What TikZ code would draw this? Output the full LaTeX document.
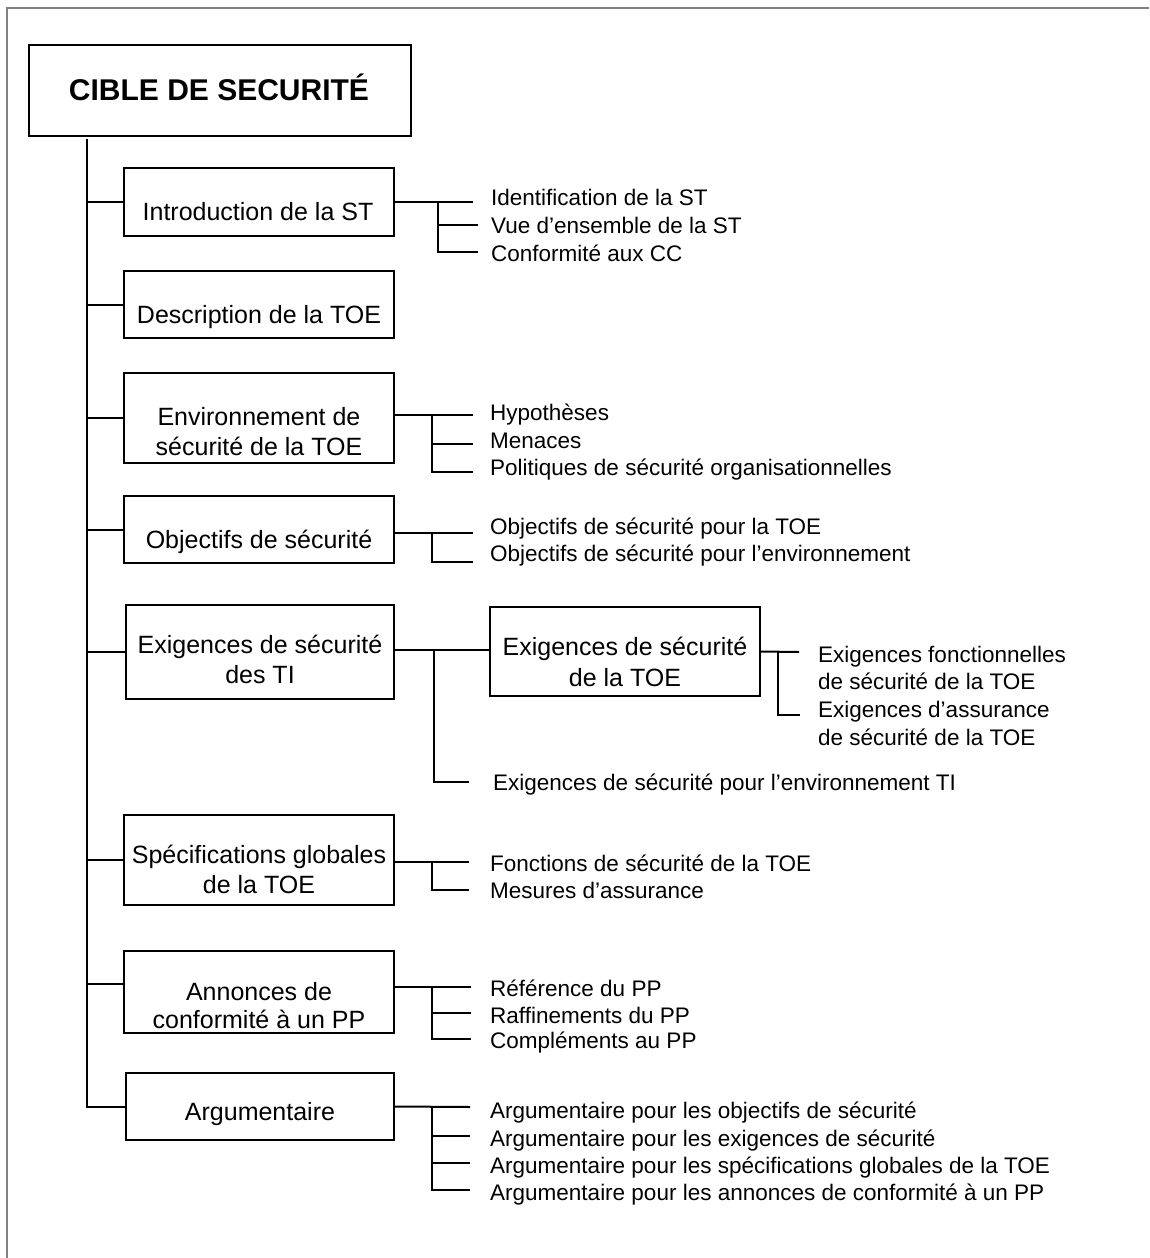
\documentclass[tikz,border=0pt]{standalone}
\usepackage{fontspec}
\setmainfont{Liberation Sans}
\begin{document}
\begin{tikzpicture}[x=1pt,y=-1pt,
  frame/.style={draw=black!50, line width=2.2pt},
  wire/.style={draw=black, line width=2pt},
  box/.style={draw=black, line width=2pt, inner sep=0pt, minimum width=270pt},
  titlefont/.style={font=\fontsize{30}{36}\selectfont\bfseries},
  boxtext/.style={inner sep=0pt, anchor=base, font=\fontsize{25}{30}\selectfont},
  leaf/.style={inner sep=0pt, anchor=base west, font=\fontsize{22.5}{27}\selectfont}]

\useasboundingbox (0,0) rectangle (1149,1258);
\fill[white] (0,0) rectangle (1149,1258);

% page frame (left and top edges)
\draw[frame] (7,1258) -- (7,8) -- (1149,8);

% title
\node[box, minimum width=382pt, minimum height=91pt] (title) at (220,90.5) {};
\node[titlefont, inner sep=0pt, anchor=base] (title-t) at (219,100) {CIBLE DE SECURITÉ};

% main sections
\node[box, minimum height=68pt] (intro) at (259,202) {};
\node[boxtext] (intro-t) at (258,220) {Introduction de la ST};

\node[box, minimum height=67pt] (desc) at (259,304.5) {};
\node[boxtext] (desc-t) at (259,323) {Description de la TOE};

\node[box, minimum height=90pt] (env) at (259,418) {};
\node[boxtext] (env-t1) at (259,425) {Environnement de};
\node[boxtext] (env-t2) at (259,455) {sécurité de la TOE};

\node[box, minimum height=67pt] (obj) at (259,529.5) {};
\node[boxtext] (obj-t) at (259,548) {Objectifs de sécurité};

\node[box, minimum width=268pt, minimum height=94pt] (ti) at (260,652) {};
\node[boxtext] (ti-t1) at (260,653) {Exigences de sécurité};
\node[boxtext] (ti-t2) at (260,683) {des TI};

\node[box, minimum height=89pt] (toe) at (625,651.5) {};
\node[boxtext] (toe-t1) at (625,655) {Exigences de sécurité};
\node[boxtext] (toe-t2) at (625,686) {de la TOE};

\node[box, minimum height=90pt] (spec) at (259,860) {};
\node[boxtext] (spec-t1) at (259,863) {Spécifications globales};
\node[boxtext] (spec-t2) at (259,893) {de la TOE};

\node[box, minimum height=82pt] (ann) at (259,992) {};
\node[boxtext] (ann-t1) at (259,1000) {Annonces de};
\node[boxtext] (ann-t2) at (259,1028) {conformité à un PP};

\node[box, minimum width=268pt, minimum height=67pt] (arg) at (260,1106.5) {};
\node[boxtext] (arg-t) at (260,1120) {Argumentaire};

% trunk
\coordinate (trunk) at (87,139);
\draw[wire] (trunk) |- (arg.west);
\draw[wire] (trunk |- intro.west) -- (intro.west);
\draw[wire] (trunk |- desc.west) -- (desc.west);
\draw[wire] (trunk |- env.west) -- (env.west);
\draw[wire] (trunk |- obj.west) -- (obj.west);
\draw[wire] (trunk |- ti.west) -- (ti.west);
\draw[wire] (trunk |- spec.west) -- (spec.west);
\draw[wire] ([yshift=8pt]ann.west -| trunk) -- ([yshift=8pt]ann.west);

% leaves
\node[leaf] (l-intro1) at (491,205) {Identification de la ST};
\node[leaf] (l-intro2) at (491,233) {Vue d’ensemble de la ST};
\node[leaf] (l-intro3) at (491,261) {Conformité aux CC};

\node[leaf] (l-env1) at (490,420) {Hypothèses};
\node[leaf] (l-env2) at (490,448) {Menaces};
\node[leaf] (l-env3) at (490,475) {Politiques de sécurité organisationnelles};

\node[leaf] (l-obj1) at (490,534) {Objectifs de sécurité pour la TOE};
\node[leaf] (l-obj2) at (490,561) {Objectifs de sécurité pour l’environnement};

\node[leaf] (l-toe1) at (818,662) {Exigences fonctionnelles};
\node[leaf] (l-toe2) at (818,689) {de sécurité de la TOE};
\node[leaf] (l-toe3) at (818,717) {Exigences d’assurance};
\node[leaf] (l-toe4) at (818,745) {de sécurité de la TOE};

\node[leaf] (l-ti) at (493,790) {Exigences de sécurité pour l’environnement TI};

\node[leaf] (l-spec1) at (490,871) {Fonctions de sécurité de la TOE};
\node[leaf] (l-spec2) at (490,898) {Mesures d’assurance};

\node[leaf] (l-ann1) at (490,996) {Référence du PP};
\node[leaf] (l-ann2) at (490,1023) {Raffinements du PP};
\node[leaf] (l-ann3) at (490,1048) {Compléments au PP};

\node[leaf] (l-arg1) at (490,1118) {Argumentaire pour les objectifs de sécurité};
\node[leaf] (l-arg2) at (490,1146) {Argumentaire pour les exigences de sécurité};
\node[leaf] (l-arg3) at (490,1173) {Argumentaire pour les spécifications globales de la TOE};
\node[leaf] (l-arg4) at (490,1200) {Argumentaire pour les annonces de conformité à un PP};

% branch: introduction
\coordinate (bi) at (438,202);
\draw[wire] (intro.east) -- (473,202);
\draw[wire] (bi) |- (478,252);
\draw[wire] (438,225) -- (478,225);

% branch: environment
\coordinate (be) at (432,415);
\draw[wire] ([yshift=3pt]env.east) -- (473,415);
\draw[wire] (be) |- (473,472);
\draw[wire] (432,444) -- (473,444);

% branch: objectives
\coordinate (bo) at (432,533);
\draw[wire] ([yshift=-3.5pt]obj.east) -- (473,533);
\draw[wire] (bo) |- (473,562);

% branch: IT requirements
\coordinate (bt) at (434,650);
\draw[wire] ([yshift=2pt]ti.east) -- (toe.west |- bt);
\draw[wire] (bt) |- (469,782);

% branch: TOE requirements
\coordinate (bq) at (778,652);
\draw[wire] (toe.east) -- (799,652);
\draw[wire] (bq) |- (800,715);

% branch: specifications
\coordinate (bs) at (432,862);
\draw[wire] ([yshift=-2pt]spec.east) -- (469,862);
\draw[wire] (bs) |- (469,890);

% branch: conformance claims
\coordinate (ba) at (432,987);
\draw[wire] ([yshift=5pt]ann.east) -- (471,987);
\draw[wire] (ba) |- (471,1039);
\draw[wire] (432,1013) -- (471,1013);

% branch: rationale
\coordinate (br) at (432,1107);
\draw[wire] (arg.east) -- (470,1107);
\draw[wire] (br) |- (470,1190);
\draw[wire] (432,1136) -- (470,1136);
\draw[wire] (432,1163) -- (470,1163);

\end{tikzpicture}
\end{document}
